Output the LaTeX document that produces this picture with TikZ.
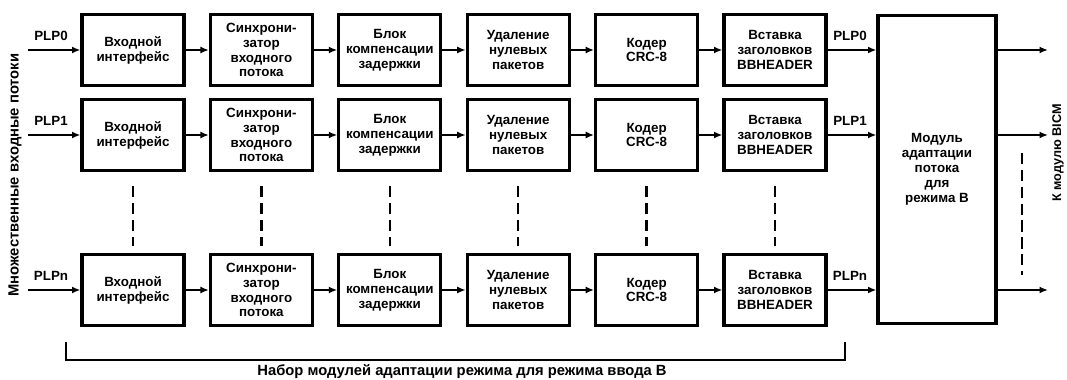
\documentclass[tikz,border=0pt]{standalone}
\usepackage{fontspec}
\setmainfont{Liberation Sans}
\usetikzlibrary{arrows.meta}

\begin{document}
\begin{tikzpicture}[
	x=0.025cm, y=-0.025cm,
	block/.style={draw, rectangle, line width=2.2pt, minimum width=2.55cm, minimum height=1.78cm,
		inner sep=0pt, align=center, font=\fontsize{9.5}{10.6}\selectfont\bfseries},
	plp/.style={inner sep=0pt, font=\fontsize{9.5}{10.6}\selectfont\bfseries},
	flow/.style={-{Latex[length=6pt,width=5pt]}, line width=1.4pt},
	skip/.style={line width=1.6pt, dash pattern=on 8pt off 4pt},
	>=stealth
	]
	\useasboundingbox (0,0) rectangle (1067,380);
	
	%-----------------------
	% Row heights
	%-----------------------
	\def\hzero{50}   % PLP0
	\def\hone{135}   % PLP1
	\def\hn{290}     % PLPn
	
	%-----------------------
	% Row PLP0
	%-----------------------
	\node[block] (in-0)   at (133,\hzero)   {Входной\\интерфейс};
	\node[block] (sync-0) at (261.4,\hzero) {Синхрони-\\затор\\входного\\потока};
	\node[block] (comp-0) at (389.8,\hzero) {Блок\\компенсации\\задержки};
	\node[block] (null-0) at (518.2,\hzero) {Удаление\\нулевых\\пакетов};
	\node[block] (crc-0)  at (646.6,\hzero) {Кодер\\CRC-8};
	\node[block] (hdr-0)  at (775,\hzero)   {Вставка\\заголовков\\BBHEADER};
	
	%-----------------------
	% Row PLP1
	%-----------------------
	\node[block] (in-1)   at (133,\hone)   {Входной\\интерфейс};
	\node[block] (sync-1) at (261.4,\hone) {Синхрони-\\затор\\входного\\потока};
	\node[block] (comp-1) at (389.8,\hone) {Блок\\компенсации\\задержки};
	\node[block] (null-1) at (518.2,\hone) {Удаление\\нулевых\\пакетов};
	\node[block] (crc-1)  at (646.6,\hone) {Кодер\\CRC-8};
	\node[block] (hdr-1)  at (775,\hone)   {Вставка\\заголовков\\BBHEADER};
	
	%-----------------------
	% Row PLPn
	%-----------------------
	\node[block] (in-n)   at (133,\hn)   {Входной\\интерфейс};
	\node[block] (sync-n) at (261.4,\hn) {Синхрони-\\затор\\входного\\потока};
	\node[block] (comp-n) at (389.8,\hn) {Блок\\компенсации\\задержки};
	\node[block] (null-n) at (518.2,\hn) {Удаление\\нулевых\\пакетов};
	\node[block] (crc-n)  at (646.6,\hn) {Кодер\\CRC-8};
	\node[block] (hdr-n)  at (775,\hn)   {Вставка\\заголовков\\BBHEADER};
	
	%-----------------------
	% Stream adaptation module
	%-----------------------
	\node[block, minimum width=2.95cm, minimum height=7.72cm] (adapt) at (937,169.5)
		{Модуль\\адаптации\\потока\\для\\режима B};
	
	%-----------------------
	% Inputs and PLP labels
	%-----------------------
	\coordinate (src-0) at (28,\hzero);
	\coordinate (src-1) at (28,\hone);
	\coordinate (src-n) at (28,\hn);
	\node[plp] (lin-0) at (51,\hzero-14) {PLP0};
	\node[plp] (lin-1) at (51,\hone-14) {PLP1};
	\node[plp] (lin-n) at (51,\hn-14) {PLPn};
	\node[plp] (lout-0) at (850,\hzero-14) {PLP0};
	\node[plp] (lout-1) at (850,\hone-14) {PLP1};
	\node[plp] (lout-n) at (850,\hn-14) {PLPn};
	
	\node[plp, rotate=90, font=\fontsize{10.5}{11}\selectfont\bfseries] (multi) at (15,175)
		{Множественные входные потоки};
	\node[plp, rotate=90, font=\fontsize{9}{10}\selectfont\bfseries] (bicm) at (1058,153)
		{К модулю BICM};
	
	%-----------------------
	% Outputs
	%-----------------------
	\coordinate (dst-0) at (1048,\hzero);
	\coordinate (dst-1) at (1048,\hone);
	\coordinate (dst-n) at (1048,\hn);
	
	%-----------------------
	% Connections
	%-----------------------
	% inputs -> input interface
	\draw[flow] (src-0) -- (in-0.west);
	\draw[flow] (src-1) -- (in-1.west);
	\draw[flow] (src-n) -- (in-n.west);
	
	% chain along each row
	\draw[flow] (in-0) -- (sync-0);
	\draw[flow] (sync-0) -- (comp-0);
	\draw[flow] (comp-0) -- (null-0);
	\draw[flow] (null-0) -- (crc-0);
	\draw[flow] (crc-0) -- (hdr-0);
	
	\draw[flow] (in-1) -- (sync-1);
	\draw[flow] (sync-1) -- (comp-1);
	\draw[flow] (comp-1) -- (null-1);
	\draw[flow] (null-1) -- (crc-1);
	\draw[flow] (crc-1) -- (hdr-1);
	
	\draw[flow] (in-n) -- (sync-n);
	\draw[flow] (sync-n) -- (comp-n);
	\draw[flow] (comp-n) -- (null-n);
	\draw[flow] (null-n) -- (crc-n);
	\draw[flow] (crc-n) -- (hdr-n);
	
	% BBHEADER -> adaptation module
	\draw[flow] (hdr-0.east) -- (hdr-0.east -| adapt.west);
	\draw[flow] (hdr-1.east) -- (hdr-1.east -| adapt.west);
	\draw[flow] (hdr-n.east) -- (hdr-n.east -| adapt.west);
	
	% adaptation module -> BICM
	\draw[flow] (adapt.east |- dst-0) -- (dst-0);
	\draw[flow] (adapt.east |- dst-1) -- (dst-1);
	\draw[flow] (adapt.east |- dst-n) -- (dst-n);
	
	% omitted rows
	\draw[skip, shorten <=10pt, shorten >=5pt] (in-1.south) -- (in-n.north);
	\draw[skip, shorten <=10pt, shorten >=5pt] (sync-1.south) -- (sync-n.north);
	\draw[skip, shorten <=10pt, shorten >=5pt] (comp-1.south) -- (comp-n.north);
	\draw[skip, shorten <=10pt, shorten >=5pt] (null-1.south) -- (null-n.north);
	\draw[skip, shorten <=10pt, shorten >=5pt] (crc-1.south) -- (crc-n.north);
	\draw[skip, shorten <=10pt, shorten >=5pt] (hdr-1.south) -- (hdr-n.north);
	\coordinate (gap-top) at (1022,153);
	\coordinate (gap-bot) at (1022,275);
	\draw[skip] (gap-top) -- (gap-bot);
	
	%-----------------------
	% Bracket with caption
	%-----------------------
	\coordinate (br-l) at (66,342);
	\coordinate (br-r) at (845,342);
	\draw[line width=1.1pt] (br-l) -- ++(0,18) -| (br-r);
	\node[plp, font=\fontsize{10.5}{11}\selectfont\bfseries] (set) at (462,372)
		{Набор модулей адаптации режима для режима ввода B};
	
\end{tikzpicture}
\end{document}
